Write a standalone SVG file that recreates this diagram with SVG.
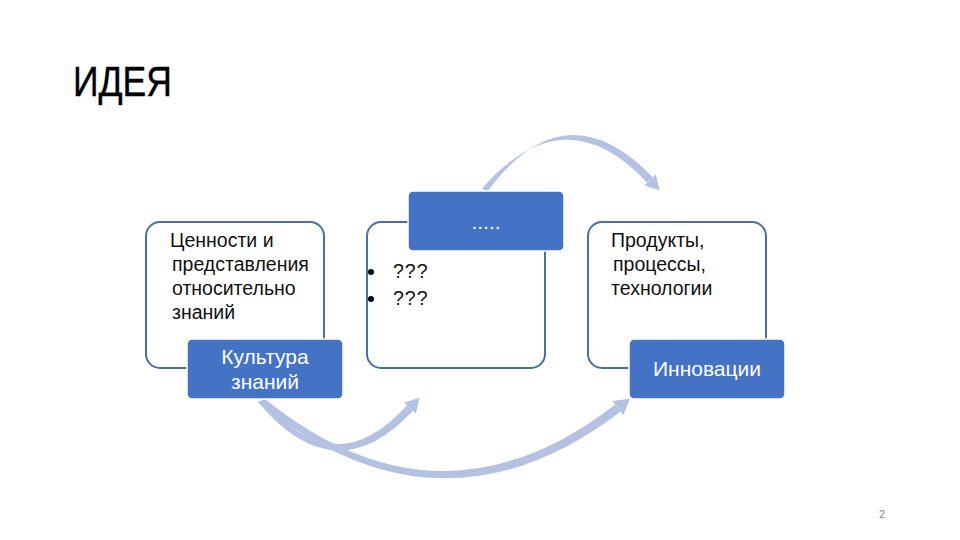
<svg xmlns="http://www.w3.org/2000/svg" width="960" height="540" viewBox="0 0 960 540">
<style>
.frame{fill:#fff;stroke:#4a6fa8;stroke-width:2}
.tag{fill:#4472c4;stroke:#fff;stroke-width:1.5}
.t{font-family:"Liberation Sans",Arial,sans-serif;font-size:19.5px;fill:#111}
.w{font-family:"Liberation Sans",Arial,sans-serif;font-size:21px;fill:#fff;text-anchor:middle}
.arc{fill:#b4c1e0;stroke:none}
</style>
<rect width="960" height="540" fill="#fff"/>
<text x="73" y="96" font-family="Liberation Sans,Arial,sans-serif" font-size="42" textLength="99" lengthAdjust="spacingAndGlyphs" fill="#000" stroke="#000" stroke-width="0.4">ИДЕЯ</text>
<g id="connectors">
<path class="arc" d="M482,188.5 Q565,94 647.1,182.7 L652.9,177.3 Q565,86 487.5,191.5 Z"/>
<polygon class="arc" points="659.6,190.2 644.2,185.5 655.8,174.5"/>
<path class="arc" d="M258,402 Q335,494.5 412.95,410.7 L407.05,405.3 Q335,485.5 264,400 Z"/>
<polygon class="arc" points="419.45,397.7 415.9,413.4 404.1,402.6"/>
<path class="arc" d="M258,402 Q440,549.75 620.75,411.56 L615.25,404.44 Q440,540.25 265,399 Z"/>
<polygon class="arc" points="629.9,398.85 623.5,415.1 612.5,400.9"/>
</g>
<g id="node-culture">
<rect class="frame" x="146" y="222" width="178" height="146" rx="14"/>
<text class="t" x="170" y="247">Ценности и</text>
<text class="t" x="172" y="271">представления</text>
<text class="t" x="172" y="295">относительно</text>
<text class="t" x="172" y="319">знаний</text>
<rect class="tag" x="187" y="339" width="156" height="60" rx="5"/>
<text class="w" x="265" y="364">Культура</text>
<text class="w" x="265" y="389">знаний</text>
</g>
<g id="node-middle">
<rect class="frame" x="367" y="222" width="178" height="146" rx="14"/>
<circle cx="371" cy="272" r="3" fill="#000"/>
<circle cx="371" cy="299" r="3" fill="#000"/>
<text class="t" x="393" y="278" font-size="18" letter-spacing="1">???</text>
<text class="t" x="393" y="305" font-size="18" letter-spacing="1">???</text>
<rect class="tag" x="408" y="191" width="156" height="60" rx="5"/>
<text class="w" x="486" y="229" font-size="14">.....</text>
</g>
<g id="node-innovation">
<rect class="frame" x="588" y="222" width="178" height="146" rx="14"/>
<text class="t" x="611" y="247">Продукты,</text>
<text class="t" x="613" y="271">процессы,</text>
<text class="t" x="611" y="295">технологии</text>
<rect class="tag" x="629" y="339" width="156" height="60" rx="5"/>
<text class="w" x="707" y="376">Инновации</text>
</g>
<text x="882" y="518" font-family="Liberation Sans,Arial,sans-serif" font-size="11" fill="#888" text-anchor="middle">2</text>
</svg>
